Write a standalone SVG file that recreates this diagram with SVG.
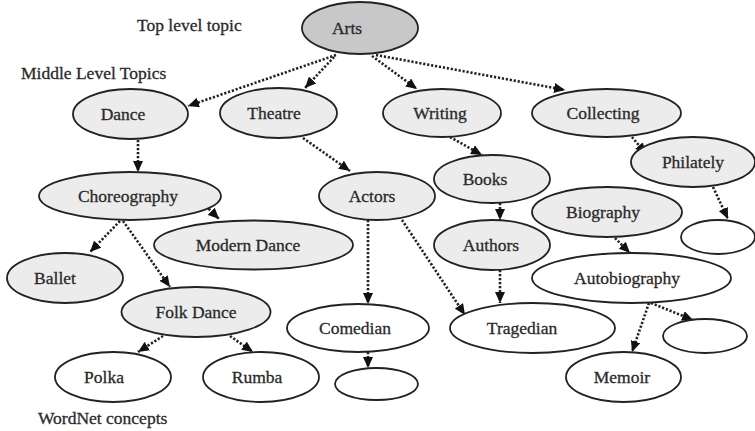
<svg xmlns="http://www.w3.org/2000/svg" width="755" height="431" viewBox="0 0 755 431" font-family="'Liberation Serif','Times New Roman',serif">
<style>
.n{stroke:#222;stroke-width:1.8}
.g{fill:#ececec}
.w{fill:#ffffff}
.top{fill:#c8c8c8}
text{font-family:"Liberation Serif","Times New Roman",serif;font-size:17.5px;fill:#2a2a2a;stroke:#2a2a2a;stroke-width:0.3}
.c{text-anchor:middle}
.e{fill:none;stroke:#222;stroke-width:2.6;stroke-dasharray:2.2 1.8}
</style>
<defs>
<marker id="ah" markerUnits="userSpaceOnUse" markerWidth="11" markerHeight="10" refX="11" refY="5" orient="auto">
<path d="M0,0 L11,5 L0,10 z" fill="#111"/>
</marker>
</defs>
<rect width="755" height="431" fill="#ffffff"/>
<text x="137" y="31">Top level topic</text>
<text x="21" y="79">Middle Level Topics</text>
<text x="38" y="424">WordNet concepts</text>
<g id="edges">
<line class="e" x1="336" y1="55" x2="188" y2="106" marker-end="url(#ah)"/>
<line class="e" x1="334" y1="57" x2="305" y2="88" marker-end="url(#ah)"/>
<line class="e" x1="372" y1="56" x2="417" y2="89" marker-end="url(#ah)"/>
<line class="e" x1="376" y1="55" x2="565" y2="90" marker-end="url(#ah)"/>
<line class="e" x1="138" y1="140" x2="138" y2="172" marker-end="url(#ah)"/>
<line class="e" x1="303" y1="138" x2="350" y2="171" marker-end="url(#ah)"/>
<line class="e" x1="450" y1="137" x2="482" y2="155" marker-end="url(#ah)"/>
<line class="e" x1="632" y1="137" x2="646" y2="154" marker-end="url(#ah)"/>
<line class="e" x1="203" y1="203" x2="219" y2="219" marker-end="url(#ah)"/>
<line class="e" x1="120" y1="221" x2="90" y2="252" marker-end="url(#ah)"/>
<line class="e" x1="123" y1="221" x2="170" y2="287" marker-end="url(#ah)"/>
<line class="e" x1="368" y1="220" x2="368" y2="304" marker-end="url(#ah)"/>
<line class="e" x1="402" y1="220" x2="465" y2="315" marker-end="url(#ah)"/>
<line class="e" x1="500" y1="203" x2="500" y2="220" marker-end="url(#ah)"/>
<line class="e" x1="500" y1="270" x2="500" y2="303" marker-end="url(#ah)"/>
<line class="e" x1="713" y1="187" x2="728" y2="219" marker-end="url(#ah)"/>
<line class="e" x1="615" y1="238" x2="630" y2="253" marker-end="url(#ah)"/>
<line class="e" x1="649" y1="303" x2="632" y2="352" marker-end="url(#ah)"/>
<line class="e" x1="651" y1="303" x2="693" y2="320" marker-end="url(#ah)"/>
<line class="e" x1="163" y1="336" x2="138" y2="352" marker-end="url(#ah)"/>
<line class="e" x1="230" y1="336" x2="253" y2="352" marker-end="url(#ah)"/>
<line class="e" x1="368" y1="352" x2="368" y2="368" marker-end="url(#ah)"/>
</g>
<g id="arts"><ellipse class="n top" cx="360" cy="28" rx="58" ry="26"/><text class="c" x="347" y="34">Arts</text></g>
<g id="dance"><ellipse class="n g" cx="130.5" cy="114" rx="57.5" ry="25"/><text class="c" x="123" y="120">Dance</text></g>
<g id="theatre"><ellipse class="n g" cx="278.5" cy="113" rx="58.5" ry="25"/><text class="c" x="274" y="119">Theatre</text></g>
<g id="writing"><ellipse class="n g" cx="442" cy="113" rx="59" ry="24"/><text class="c" x="440" y="119">Writing</text></g>
<g id="collecting"><ellipse class="n g" cx="606.5" cy="113" rx="74.5" ry="24"/><text class="c" x="603" y="119">Collecting</text></g>
<g id="philately"><ellipse class="n g" cx="693" cy="162" rx="62" ry="25"/><text class="c" x="693" y="168">Philately</text></g>
<g id="choreography"><ellipse class="n g" cx="130" cy="196" rx="91" ry="24"/><text class="c" x="128" y="202">Choreography</text></g>
<g id="actors"><ellipse class="n g" cx="377" cy="196" rx="58" ry="24"/><text class="c" x="372" y="202">Actors</text></g>
<g id="books"><ellipse class="n g" cx="492" cy="179" rx="58" ry="24"/><text class="c" x="485" y="185">Books</text></g>
<g id="biography"><ellipse class="n g" cx="607" cy="212" rx="75" ry="25"/><text class="c" x="603" y="218">Biography</text></g>
<g id="modern-dance"><ellipse class="n g" cx="253.5" cy="245" rx="99.5" ry="24.5"/><text class="c" x="248" y="251">Modern Dance</text></g>
<g id="authors"><ellipse class="n g" cx="492" cy="245" rx="58" ry="25"/><text class="c" x="491" y="251">Authors</text></g>
<g id="empty-1"><ellipse class="n w" cx="718" cy="237" rx="37" ry="17"/></g>
<g id="ballet"><ellipse class="n g" cx="65" cy="278" rx="58" ry="25"/><text class="c" x="55" y="284">Ballet</text></g>
<g id="autobiography"><ellipse class="n w" cx="631.5" cy="278" rx="99.5" ry="25"/><text class="c" x="627" y="284">Autobiography</text></g>
<g id="folk-dance"><ellipse class="n g" cx="196" cy="312" rx="74.5" ry="25"/><text class="c" x="196" y="318">Folk Dance</text></g>
<g id="comedian"><ellipse class="n w" cx="358" cy="328" rx="71" ry="24"/><text class="c" x="355" y="334">Comedian</text></g>
<g id="tragedian"><ellipse class="n w" cx="532.5" cy="328" rx="82.5" ry="25"/><text class="c" x="522" y="334">Tragedian</text></g>
<g id="empty-3"><ellipse class="n w" cx="705" cy="336" rx="42" ry="17"/></g>
<g id="polka"><ellipse class="n w" cx="113" cy="377" rx="58" ry="25"/><text class="c" x="104" y="383">Polka</text></g>
<g id="rumba"><ellipse class="n w" cx="261" cy="377" rx="58" ry="25"/><text class="c" x="257" y="383">Rumba</text></g>
<g id="empty-2"><ellipse class="n w" cx="376.5" cy="384" rx="41.5" ry="16"/></g>
<g id="memoir"><ellipse class="n w" cx="623.5" cy="377" rx="57.5" ry="25"/><text class="c" x="622" y="383">Memoir</text></g>
</svg>
